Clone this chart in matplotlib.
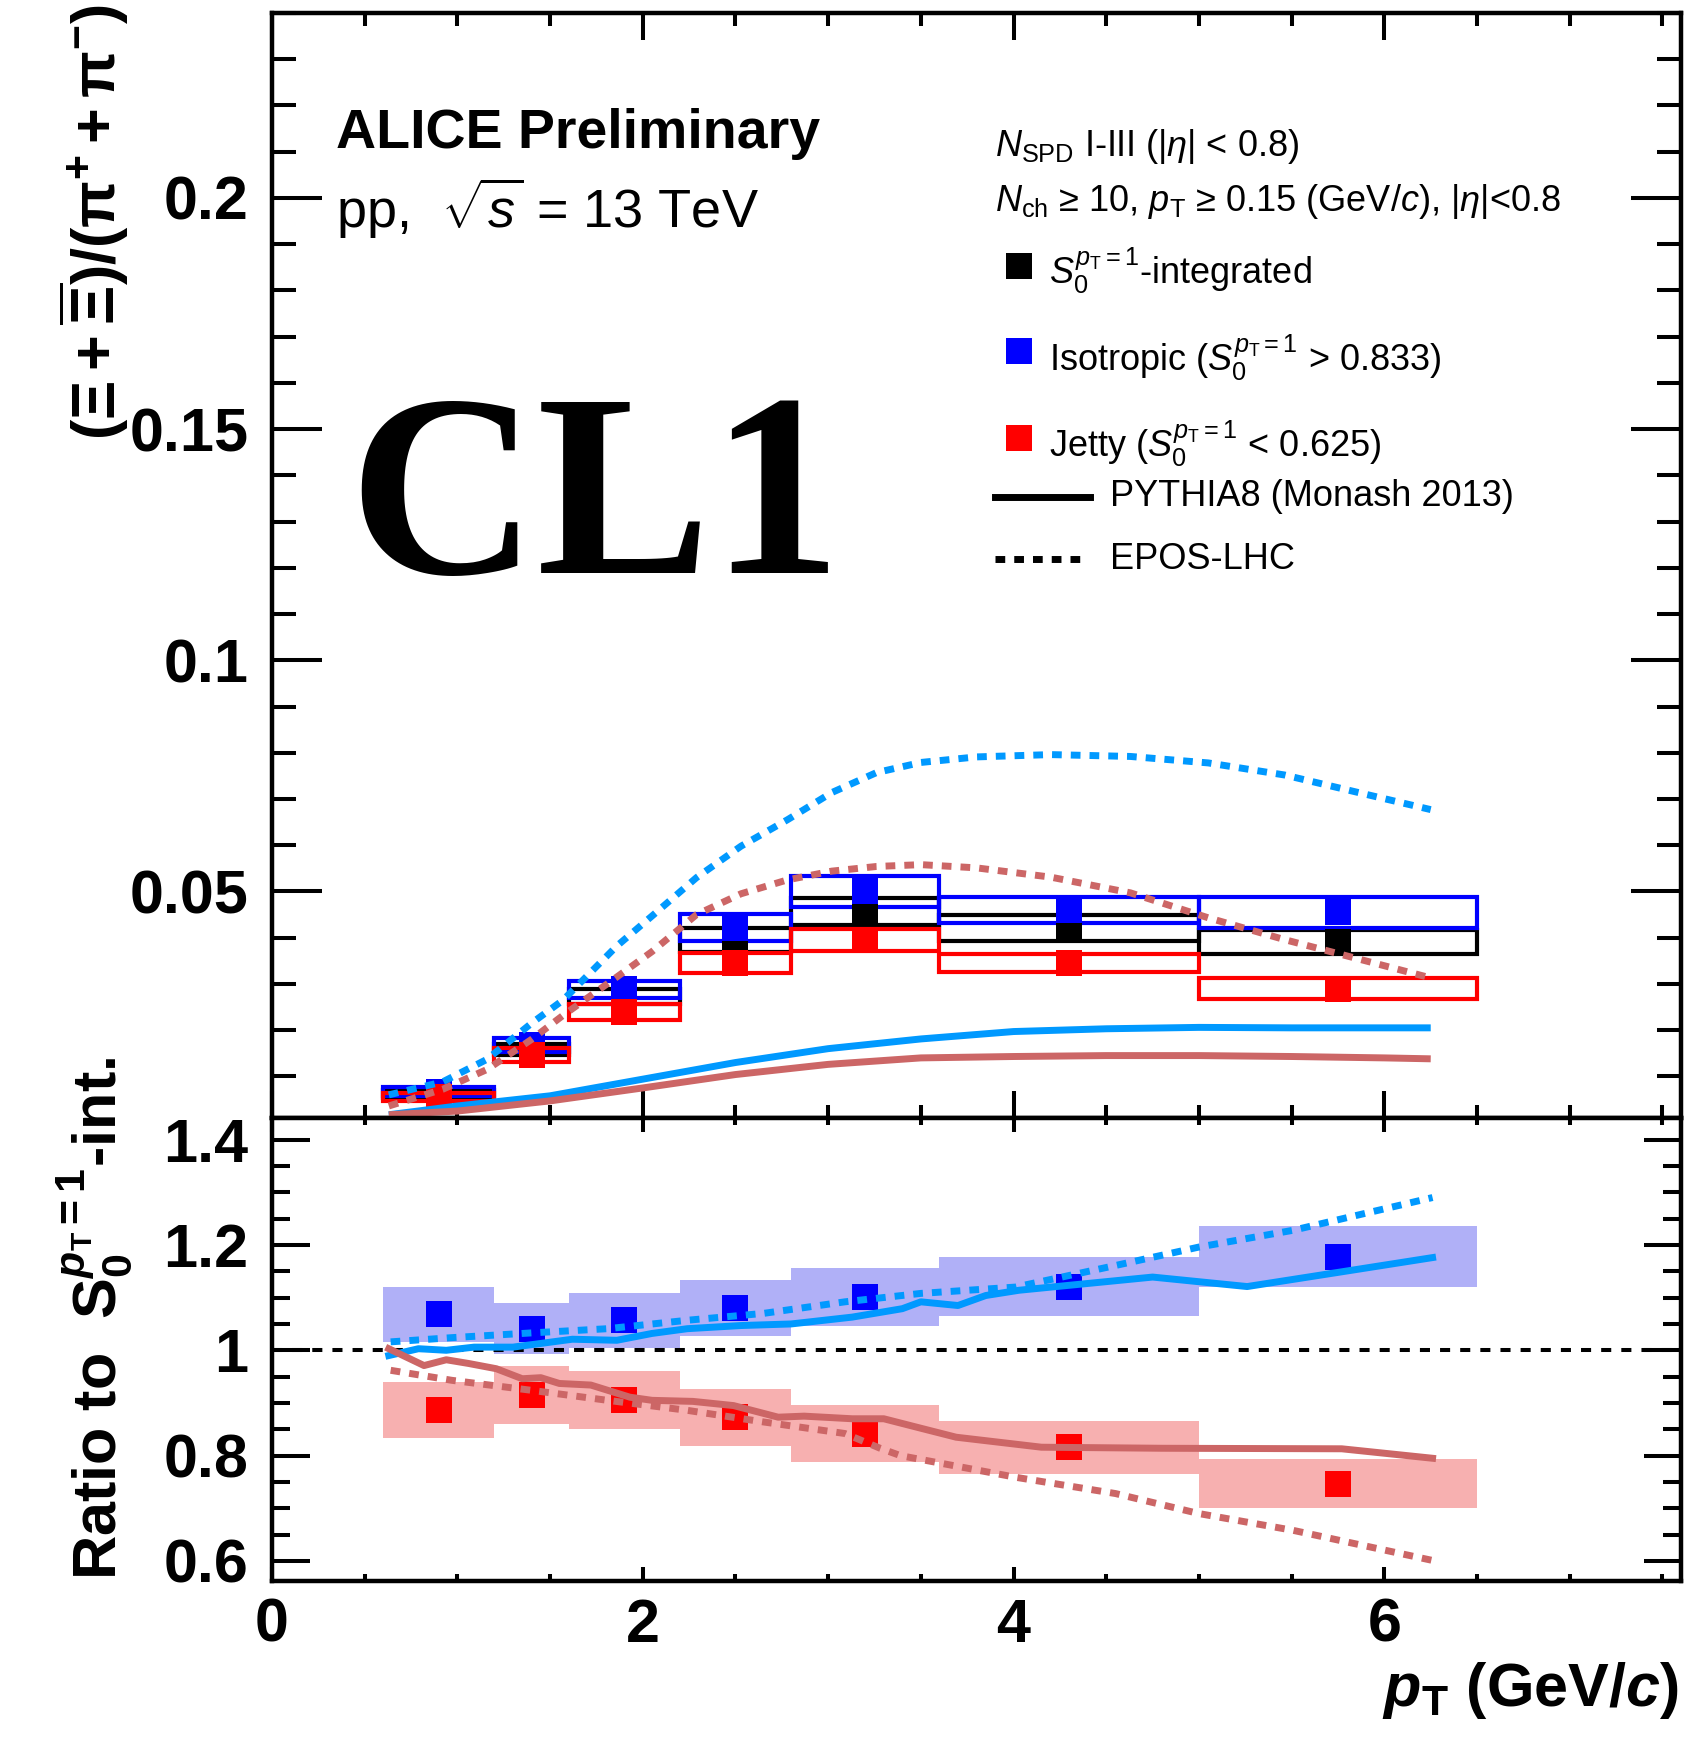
import matplotlib
matplotlib.use('Agg')
import matplotlib.pyplot as plt
from matplotlib.ticker import MultipleLocator, FuncFormatter
from matplotlib.patches import Rectangle

# ---- data ----
pt_centers = [0.9, 1.4, 1.9, 2.5, 3.2, 4.3, 5.75]
bin_lo = [0.6, 1.2, 1.6, 2.2, 2.8, 3.6, 5.0]
bin_hi = [1.2, 1.6, 2.2, 2.8, 3.6, 5.0, 6.5]

ratio_int = [0.0062, 0.0158, 0.0273, 0.0395, 0.0457, 0.0420, 0.0390]
ratio_iso = [0.0067, 0.0167, 0.0288, 0.0422, 0.0500, 0.0460, 0.0455]
ratio_jet = [0.0055, 0.0147, 0.0240, 0.0345, 0.0395, 0.0345, 0.0290]
sys_int = [0.0009, 0.0012, 0.0016, 0.0027, 0.0029, 0.0028, 0.0026]
sys_iso = [0.0010, 0.0015, 0.0018, 0.0030, 0.0034, 0.0028, 0.0034]
sys_jet = [0.0008, 0.0015, 0.0017, 0.0022, 0.0023, 0.0020, 0.0023]

# ratios to S0-integrated
rel_iso = [1.068, 1.041, 1.057, 1.080, 1.102, 1.121, 1.178]
rel_jet = [0.887, 0.916, 0.906, 0.873, 0.842, 0.816, 0.747]
rel_sys_iso = [0.053, 0.048, 0.052, 0.053, 0.055, 0.056, 0.058]
rel_sys_jet = [0.053, 0.055, 0.055, 0.054, 0.055, 0.050, 0.047]

# EPOS-LHC
epos_x = [0.63, 0.92, 1.16, 1.40, 1.57, 1.86, 2.05, 2.29, 2.53, 2.78, 3.02,
          3.26, 3.5, 3.8, 4.2, 4.63, 5.05, 5.46, 5.87, 6.25]
epos_iso = [0.0060, 0.0088, 0.0137, 0.0215, 0.0265, 0.0382, 0.0447, 0.0530,
            0.0598, 0.0655, 0.0714, 0.0757, 0.0779, 0.0791, 0.0796, 0.0792,
            0.0778, 0.0752, 0.0713, 0.0677]
epos_jet = [0.0036, 0.0072, 0.0115, 0.0180, 0.0232, 0.0315, 0.0370, 0.0450,
            0.0495, 0.0525, 0.0544, 0.0554, 0.0558, 0.0551, 0.0531, 0.0497,
            0.0443, 0.0396, 0.0353, 0.0313]

# PYTHIA8 Monash
py_x = [0.63, 1.0, 1.5, 2.0, 2.5, 3.0, 3.5, 4.0, 4.5, 5.0, 5.5, 6.0, 6.25]
py_iso = [0.0017, 0.0036, 0.0058, 0.0094, 0.0130, 0.0160, 0.0181, 0.0197,
          0.0203, 0.0206, 0.0205, 0.0205, 0.0205]
py_jet = [0.0017, 0.0025, 0.0047, 0.0075, 0.0104, 0.0126, 0.0140, 0.0143,
          0.0145, 0.0145, 0.0143, 0.0140, 0.0138]

# model ratios
py_iso_rx = [0.63, 0.79, 0.94, 1.09, 1.3, 1.45, 1.62, 1.86, 2.05, 2.24, 2.53,
             2.8, 3.13, 3.4, 3.5, 3.7, 3.85, 4.03, 4.26, 4.75, 5.26, 5.77, 6.26]
py_iso_r = [0.990, 1.003, 1.000, 1.006, 1.006, 1.013, 1.021, 1.019, 1.032,
            1.041, 1.047, 1.050, 1.063, 1.079, 1.092, 1.085, 1.104, 1.114,
            1.122, 1.139, 1.121, 1.149, 1.176]
py_jet_rx = [0.63, 0.82, 0.94, 1.06, 1.21, 1.35, 1.45, 1.55, 1.72, 1.93, 2.05,
             2.27, 2.49, 2.73, 2.87, 3.13, 3.3, 3.5, 3.69, 4.15, 4.8, 5.77, 6.26]
py_jet_r = [1.003, 0.971, 0.982, 0.975, 0.965, 0.946, 0.948, 0.937, 0.934,
            0.911, 0.905, 0.903, 0.895, 0.873, 0.875, 0.870, 0.870, 0.852,
            0.835, 0.816, 0.814, 0.813, 0.795]
epos_iso_rx = [0.64, 0.97, 1.40, 1.81, 2.24, 2.65, 3.09, 3.5, 4.01, 4.55, 5.0, 5.51, 6.26]
epos_iso_r = [1.016, 1.024, 1.033, 1.041, 1.057, 1.070, 1.092, 1.108, 1.120,
              1.161, 1.196, 1.228, 1.290]
epos_jet_rx = [0.64, 0.97, 1.40, 1.81, 2.24, 2.65, 3.09, 3.28, 3.39, 4.01, 4.55, 5.0, 5.51, 6.26]
epos_jet_r = [0.962, 0.943, 0.924, 0.905, 0.886, 0.864, 0.842, 0.814, 0.800,
              0.759, 0.728, 0.690, 0.658, 0.601]

# ---- style ----
plt.rcParams['font.family'] = ['Liberation Sans', 'DejaVu Sans']
plt.rcParams['mathtext.fontset'] = 'custom'
plt.rcParams['mathtext.rm'] = 'Liberation Sans'
plt.rcParams['mathtext.it'] = 'Liberation Sans:italic'
plt.rcParams['mathtext.bf'] = 'Liberation Sans:bold'
plt.rcParams['mathtext.bfit'] = 'Liberation Sans:bold:italic'

W, H = 1687, 1744
C_MODEL_BLUE = '#0099ff'
C_MODEL_RED = '#cc6666'
DOT = (0, (1.4, 1.3))


def fx(px):
    return px / W


def fy(py):
    return 1 - py / H


fig = plt.figure(figsize=(W / 100, H / 100), dpi=100)
left, right = 272, 1681
ax1 = fig.add_axes([fx(left), fy(1118), (right - left) / W, (1118 - 13) / H])
ax2 = fig.add_axes([fx(left), fy(1581), (right - left) / W, (1581 - 1118) / H], sharex=ax1)

# ---- top panel ----
series = [(ratio_int, sys_int, 'black'), (ratio_iso, sys_iso, '#0000ff'), (ratio_jet, sys_jet, '#ff0000')]
for vals, sys, col in series:
    for lo, hi, v, s in zip(bin_lo, bin_hi, vals, sys):
        ax1.add_patch(Rectangle((lo, v - s), hi - lo, 2 * s, fill=False,
                                edgecolor=col, linewidth=3.0, zorder=2))
    ax1.plot(pt_centers, vals, 's', color=col, markersize=19, markeredgewidth=0, zorder=3)

ax1.plot(py_x, py_iso, '-', color=C_MODEL_BLUE, lw=5, zorder=4, solid_capstyle='butt')
ax1.plot(py_x, py_jet, '-', color=C_MODEL_RED, lw=5, zorder=4, solid_capstyle='butt')
ax1.plot(epos_x, epos_iso, linestyle=DOT, color=C_MODEL_BLUE, lw=5, zorder=4, dash_capstyle='butt')
ax1.plot(epos_x, epos_jet, linestyle=DOT, color=C_MODEL_RED, lw=5, zorder=4, dash_capstyle='butt')

ax1.set_xlim(0, 7.6)
ax1.set_ylim(0.001, 0.24)

# ---- bottom panel ----
for rel, sys, col in [(rel_jet, rel_sys_jet, '#f7b0b0'), (rel_iso, rel_sys_iso, '#b0b0f7')]:
    ax2.bar(bin_lo, [2 * s for s in sys], bottom=[r - s for r, s in zip(rel, sys)],
            width=[hi - lo for lo, hi in zip(bin_lo, bin_hi)], align='edge',
            color=col, linewidth=0, zorder=1)
ax2.axhline(1.0, color='black', lw=2.9, linestyle=(0, (2.5, 2.5)), zorder=2)
ax2.plot(pt_centers, rel_iso, 's', color='#0000ff', markersize=19, markeredgewidth=0, zorder=3)
ax2.plot(pt_centers, rel_jet, 's', color='#ff0000', markersize=19, markeredgewidth=0, zorder=3)
ax2.plot(py_iso_rx, py_iso_r, '-', color=C_MODEL_BLUE, lw=5, zorder=4)
ax2.plot(py_jet_rx, py_jet_r, '-', color=C_MODEL_RED, lw=5, zorder=4)
ax2.plot(epos_iso_rx, epos_iso_r, linestyle=DOT, color=C_MODEL_BLUE, lw=5, zorder=4, dash_capstyle='butt')
ax2.plot(epos_jet_rx, epos_jet_r, linestyle=DOT, color=C_MODEL_RED, lw=5, zorder=4, dash_capstyle='butt')
ax2.set_ylim(0.562, 1.441)

# ---- axes cosmetics ----
fmt = FuncFormatter(lambda v, _: f"{v:g}")
for ax in (ax1, ax2):
    for sp in ax.spines.values():
        sp.set_linewidth(3.2)
    ax.tick_params(which='both', direction='in', top=True, right=True, width=2.9,
                   labelsize=44, pad=17)
    ax.xaxis.set_major_locator(MultipleLocator(2))
    ax.xaxis.set_minor_locator(MultipleLocator(0.5))
    ax.yaxis.set_major_formatter(fmt)
    ax.xaxis.set_major_formatter(fmt)

ax1.yaxis.set_major_locator(MultipleLocator(0.05))
ax1.yaxis.set_minor_locator(MultipleLocator(0.01))
ax1.tick_params(axis='y', which='major', length=36)
ax1.tick_params(axis='y', which='minor', length=17)
ax1.tick_params(axis='x', which='major', length=19.5)
ax1.tick_params(axis='x', which='minor', length=9.5)
ax1.tick_params(axis='x', labelbottom=False)

ax2.yaxis.set_major_locator(MultipleLocator(0.2))
ax2.yaxis.set_minor_locator(MultipleLocator(0.05))
ax2.tick_params(axis='y', which='major', length=27)
ax2.tick_params(axis='y', which='minor', length=13)
ax2.tick_params(axis='x', which='major', length=10)
ax2.tick_params(axis='x', which='minor', length=4.7)
ax2.tick_params(axis='x', pad=12)
for lab in ax2.get_xticklabels() + ax2.get_yticklabels() + ax1.get_yticklabels():
    lab.set_fontweight('bold')

# ---- labels ----
fig.text(fx(94), fy(4), r'$\mathbf{(\Xi+\overline{\Xi})/(\pi^{+}+\pi^{-})}$',
         rotation=90, ha='center', va='top', fontsize=44)
fig.text(fx(94), fy(1580), r'Ratio to  $\mathbf{S}_{\mathbf{0}}^{\mathbfit{p}_{\mathbf{T}}\mathbf{=1}}$-int.',
         rotation=90, ha='center', va='bottom', fontsize=44, fontweight='bold')
fig.text(fx(1679), fy(1706), r'$\mathbfit{p}_{\mathbf{T}}$ (GeV/$\mathbfit{c}$)',
         ha='right', va='baseline', fontsize=44, fontweight='bold')

fig.text(fx(336), fy(148), 'ALICE Preliminary', fontsize=40, fontweight='bold',
         ha='left', va='baseline')
fig.text(fx(336), fy(228), r'pp,  $\sqrt{s}$ = 13 TeV', fontsize=39,
         ha='left', va='baseline')
fig.text(fx(348), fy(573), 'CL1', fontsize=188, fontweight='bold',
         family='Liberation Serif', ha='left', va='baseline')

# ---- legend block ----
LS = 26
fig.text(fx(995), fy(156), r'$N_{\mathrm{SPD}}$ I-III (|$\eta$| < 0.8)', fontsize=LS, va='baseline')
fig.text(fx(995), fy(211), r'$N_{\mathrm{ch}}$ ≥ 10, $p_{\mathrm{T}}$ ≥ 0.15 (GeV/$c$), |$\eta$|<0.8',
         fontsize=LS, va='baseline')
entries = [(266, 284, 'black', r'$S_{0}^{p_{\mathrm{T}}=1}$-integrated'),
           (351, 371, '#0000ff', r'Isotropic ($S_{0}^{p_{\mathrm{T}}=1}$ > 0.833)'),
           (438, 457, '#ff0000', r'Jetty ($S_{0}^{p_{\mathrm{T}}=1}$ < 0.625)')]
for ysq, ybase, col, lab in entries:
    fig.add_artist(plt.Line2D([fx(1019)], [fy(ysq)], marker='s', color=col,
                              markersize=18.5, markeredgewidth=0, linestyle='none'))
    fig.text(fx(1049), fy(ybase), lab, fontsize=LS, va='baseline')
fig.add_artist(plt.Line2D([fx(995), fx(1090)], [fy(497), fy(497)], color='black', lw=5))
fig.text(fx(1110), fy(506), 'PYTHIA8 (Monash 2013)', fontsize=LS, va='baseline')
fig.add_artist(plt.Line2D([fx(995), fx(1081)], [fy(559), fy(559)], color='black', lw=5,
                          linestyle=DOT, dash_capstyle='butt'))
fig.text(fx(1110), fy(569), 'EPOS-LHC', fontsize=LS, va='baseline')

fig.savefig('out.png', dpi=100)
